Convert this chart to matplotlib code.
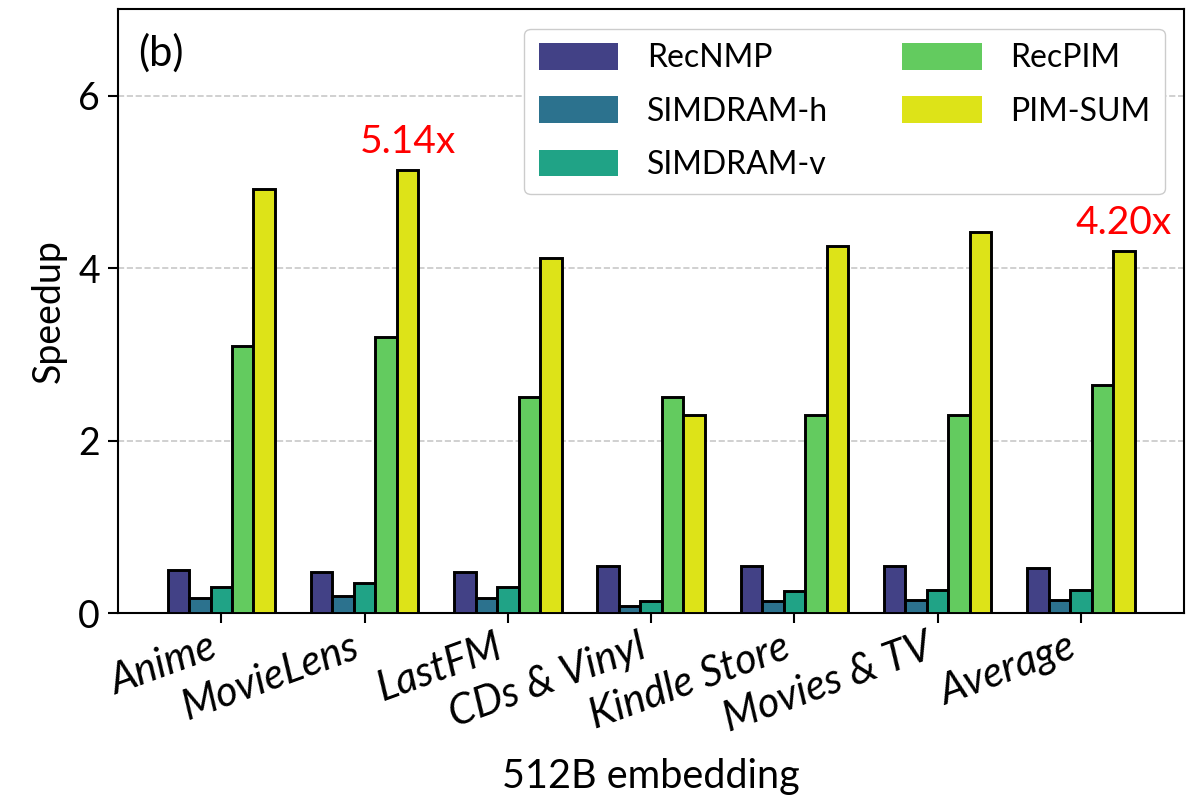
import numpy as np
import matplotlib
matplotlib.use('Agg')
import matplotlib.pyplot as plt
from matplotlib.patches import Patch

plt.rcParams['font.family'] = ['Lato', 'DejaVu Sans']

# données
datasets = ['Anime', 'MovieLens', 'LastFM', 'CDs & Vinyl', 'Kindle Store', 'Movies & TV', 'Average']
series = ['RecNMP', 'SIMDRAM-h', 'SIMDRAM-v', 'RecPIM', 'PIM-SUM']
recnmp = [0.50, 0.48, 0.48, 0.55, 0.55, 0.55, 0.52]
simdram_h = [0.17, 0.20, 0.17, 0.08, 0.14, 0.15, 0.15]
simdram_v = [0.30, 0.35, 0.30, 0.14, 0.26, 0.27, 0.27]
recpim = [3.10, 3.20, 2.50, 2.50, 2.30, 2.30, 2.65]
pim_sum = [4.92, 5.14, 4.12, 2.30, 4.26, 4.42, 4.20]
colors = ['#424186', '#2c728e', '#20a386', '#63cb5f', '#dde318']

values = [recnmp, simdram_h, simdram_v, recpim, pim_sum]
x = np.arange(len(datasets)) ; w = 0.15

fig = plt.figure(figsize=(11.93, 8.08), dpi=100)
ax = fig.add_axes([0.099, 0.2413, 0.8935, 0.7470])

for i, (name, vals, c) in enumerate(zip(series, values, colors)):
    ax.bar(x + (i - 2) * w, vals, w, color=c, edgecolor='black', linewidth=2.1, label=name, zorder=3)

# annotations en rouge au-dessus de PIM-SUM
for j in [1, 6]:
    ax.text(x[j] + 2 * w, pim_sum[j] + 0.2, '%.2fx' % pim_sum[j], color='red', fontsize=28,
            ha='center', va='baseline')

ax.text(-0.42, 6.49, '(b)', fontsize=30, ha='center', va='center')

ax.set_xlim(-0.72, 6.72) ; ax.set_ylim(0, 7)
ax.set_yticks([0, 2, 4, 6])
ax.set_xticks(x)
ax.set_xticklabels(datasets, rotation=20, ha='right', fontstyle='italic', fontsize=30)
ax.tick_params(axis='y', labelsize=27, width=1.5, length=7, pad=6)
ax.tick_params(axis='x', width=1.5, length=7)
ax.yaxis.grid(True, linestyle='--', color='#c8c8c8', linewidth=1.2, zorder=0)
ax.set_axisbelow(True)
for s in ax.spines.values():
    s.set_linewidth(1.5)

ax.set_ylabel('Speedup', fontsize=27, labelpad=8)
ax.set_xlabel('512B embedding', fontsize=28.5, labelpad=14)

handles = [Patch(facecolor=c, label=n) for n, c in zip(series, colors)]
ax.legend(handles=handles, ncol=2, loc='upper right', fontsize=23, handlelength=2.5, handleheight=0.9,
          handletextpad=0.9, columnspacing=2.3, framealpha=1, edgecolor='#cccccc', borderpad=0.45,
          labelspacing=0.72, borderaxespad=0.6)

plt.savefig('out.png', dpi=100)
